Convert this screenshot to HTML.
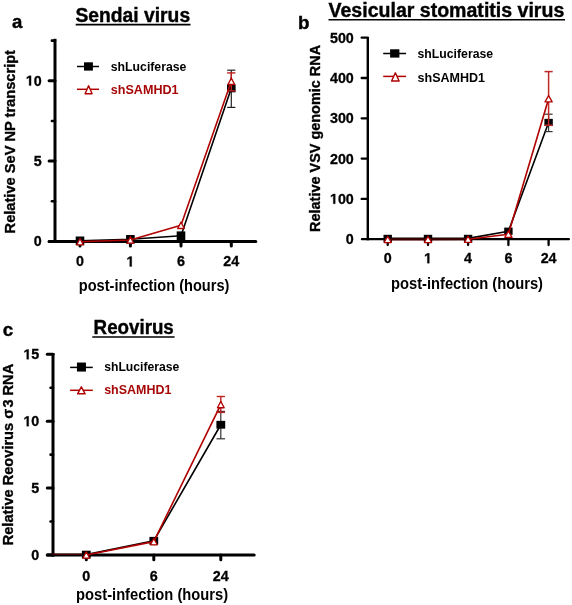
<!DOCTYPE html><html><head><meta charset="utf-8"><style>html,body{margin:0;padding:0;background:#fff;width:572px;height:605px;overflow:hidden}svg{display:block;will-change:transform}text{font-family:"Liberation Sans",sans-serif;font-weight:bold}</style></head><body>
<svg width="572" height="605" viewBox="0 0 572 605">
<text x="11.9" y="28.1" font-size="18.6" text-anchor="start" fill="#000" stroke="#000" stroke-width="0.4">a</text>
<text x="75.5" y="21.6" font-size="19.5" text-anchor="start" fill="#000" textLength="114.6" lengthAdjust="spacingAndGlyphs" stroke="#000" stroke-width="0.4">Sendai virus</text>
<line x1="75.70" y1="24.60" x2="190.50" y2="24.60" stroke="#000" stroke-width="1.8" stroke-linecap="butt"/>
<line x1="55.00" y1="38.80" x2="55.00" y2="242.90" stroke="#000" stroke-width="3" stroke-linecap="butt"/>
<line x1="49.10" y1="241.40" x2="55.00" y2="241.40" stroke="#000" stroke-width="3" stroke-linecap="round"/>
<line x1="51.90" y1="201.25" x2="55.00" y2="201.25" stroke="#000" stroke-width="2.6" stroke-linecap="round"/>
<line x1="49.10" y1="161.10" x2="55.00" y2="161.10" stroke="#000" stroke-width="3" stroke-linecap="round"/>
<line x1="51.90" y1="120.95" x2="55.00" y2="120.95" stroke="#000" stroke-width="2.6" stroke-linecap="round"/>
<line x1="49.10" y1="80.80" x2="55.00" y2="80.80" stroke="#000" stroke-width="3" stroke-linecap="round"/>
<line x1="51.90" y1="40.65" x2="55.00" y2="40.65" stroke="#000" stroke-width="2.6" stroke-linecap="round"/>
<line x1="49.30" y1="241.40" x2="255.80" y2="241.40" stroke="#000" stroke-width="3" stroke-linecap="round"/>
<line x1="80.00" y1="241.40" x2="80.00" y2="246.10" stroke="#000" stroke-width="3" stroke-linecap="round"/>
<line x1="130.40" y1="241.40" x2="130.40" y2="246.10" stroke="#000" stroke-width="3" stroke-linecap="round"/>
<line x1="181.00" y1="241.40" x2="181.00" y2="246.10" stroke="#000" stroke-width="3" stroke-linecap="round"/>
<line x1="231.30" y1="241.40" x2="231.30" y2="246.10" stroke="#000" stroke-width="3" stroke-linecap="round"/>
<text x="33.75" y="246.20000000000002" font-size="14.3" fill="#000" stroke="#000" stroke-width="0.3">0</text>
<text x="33.75" y="165.90000000000003" font-size="14.3" fill="#000" stroke="#000" stroke-width="0.3">5</text>
<path transform="translate(25.79,85.60000000000001) scale(0.006982,-0.006982)" d="M478,0 L478,1170 L140,959 L140,1180 L493,1409 L759,1409 L759,0 Z" fill="#000" stroke="#000" stroke-width="43.0" stroke-linejoin="round"/>
<text x="33.75" y="85.60000000000001" font-size="14.3" fill="#000" stroke="#000" stroke-width="0.3">0</text>
<text x="76.02" y="266.4" font-size="14.3" fill="#000" stroke="#000" stroke-width="0.3">0</text>
<path transform="translate(126.42,266.4) scale(0.006982,-0.006982)" d="M478,0 L478,1170 L140,959 L140,1180 L493,1409 L759,1409 L759,0 Z" fill="#000" stroke="#000" stroke-width="43.0" stroke-linejoin="round"/>
<text x="177.02" y="266.4" font-size="14.3" fill="#000" stroke="#000" stroke-width="0.3">6</text>
<text x="223.35" y="266.4" font-size="14.3" fill="#000" stroke="#000" stroke-width="0.3">2</text>
<text x="231.30" y="266.4" font-size="14.3" fill="#000" stroke="#000" stroke-width="0.3">4</text>
<text x="78.8" y="291.3" font-size="16" text-anchor="start" fill="#000" textLength="150.6" lengthAdjust="spacingAndGlyphs" >post-infection (hours)</text>
<text transform="translate(15.4,233.4) rotate(-90)" font-size="15.4" fill="#000" stroke="#000" stroke-width="0.35" textLength="183.4" lengthAdjust="spacingAndGlyphs">Relative SeV NP transcript</text>
<line x1="77.00" y1="66.50" x2="99.00" y2="66.50" stroke="#000" stroke-width="1.5" stroke-linecap="butt"/>
<rect x="84.00" y="62.30" width="8.9" height="8.3" fill="#000"/>
<text x="110.8" y="70.5" font-size="13" text-anchor="start" fill="#000" textLength="75.6" lengthAdjust="spacingAndGlyphs" >shLuciferase</text>
<line x1="77.00" y1="89.30" x2="99.00" y2="89.30" stroke="#b00000" stroke-width="1.5" stroke-linecap="butt"/>
<path d="M88.60,85.70 L92.10,93.70 L85.10,93.70 Z" fill="#fff" stroke="#b00000" stroke-width="1.4" stroke-linejoin="round"/>
<text x="110.8" y="94.3" font-size="13" text-anchor="start" fill="#a60606" textLength="67.8" lengthAdjust="spacingAndGlyphs" >shSAMHD1</text>
<polyline points="80.00,240.80 130.40,239.30 181.00,235.70 231.30,88.30" fill="none" stroke="#000" stroke-width="1.6" stroke-linejoin="round"/>
<line x1="231.30" y1="70.20" x2="231.30" y2="107.40" stroke="#222" stroke-width="1.2" stroke-linecap="butt"/>
<line x1="227.20" y1="70.20" x2="235.40" y2="70.20" stroke="#222" stroke-width="1.2" stroke-linecap="butt"/>
<line x1="227.20" y1="107.40" x2="235.40" y2="107.40" stroke="#222" stroke-width="1.2" stroke-linecap="butt"/>
<rect x="75.70" y="236.50" width="8.6" height="8.6" fill="#000"/>
<rect x="126.10" y="235.00" width="8.6" height="8.6" fill="#000"/>
<rect x="176.70" y="231.40" width="8.6" height="8.6" fill="#000"/>
<rect x="227.00" y="84.30" width="8.6" height="8.0" fill="#000"/>
<polyline points="80.00,241.75 130.40,240.00 181.00,225.30 231.30,81.30" fill="none" stroke="#b00000" stroke-width="1.6" stroke-linejoin="round"/>
<line x1="231.30" y1="72.90" x2="231.30" y2="90.80" stroke="#c02020" stroke-width="1.4" stroke-linecap="butt"/>
<line x1="227.20" y1="72.90" x2="235.40" y2="72.90" stroke="#c02020" stroke-width="1.4" stroke-linecap="butt"/>
<line x1="227.20" y1="90.80" x2="235.40" y2="90.80" stroke="#c02020" stroke-width="1.4" stroke-linecap="butt"/>
<path d="M80.00,238.55 L83.35,244.95 L76.65,244.95 Z" fill="#fff" stroke="#b00000" stroke-width="1.3" stroke-linejoin="round"/>
<path d="M130.40,236.80 L133.75,243.20 L127.05,243.20 Z" fill="#fff" stroke="#b00000" stroke-width="1.3" stroke-linejoin="round"/>
<path d="M181.00,222.10 L184.35,228.50 L177.65,228.50 Z" fill="#fff" stroke="#b00000" stroke-width="1.3" stroke-linejoin="round"/>
<path d="M231.30,78.10 L234.65,84.50 L227.95,84.50 Z" fill="#fff" stroke="#b00000" stroke-width="1.3" stroke-linejoin="round"/>
<text x="297.9" y="28.8" font-size="18.8" text-anchor="start" fill="#000" stroke="#000" stroke-width="0.4">b</text>
<text x="328.5" y="16.7" font-size="19.5" text-anchor="start" fill="#000" textLength="235.8" lengthAdjust="spacingAndGlyphs" stroke="#000" stroke-width="0.4">Vesicular stomatitis virus</text>
<line x1="328.50" y1="19.80" x2="565.00" y2="19.80" stroke="#000" stroke-width="1.6" stroke-linecap="butt"/>
<line x1="367.80" y1="37.00" x2="367.80" y2="240.30" stroke="#000" stroke-width="2.4" stroke-linecap="butt"/>
<line x1="361.65" y1="198.90" x2="367.80" y2="198.90" stroke="#000" stroke-width="2.3" stroke-linecap="round"/>
<line x1="361.65" y1="158.60" x2="367.80" y2="158.60" stroke="#000" stroke-width="2.3" stroke-linecap="round"/>
<line x1="361.65" y1="118.30" x2="367.80" y2="118.30" stroke="#000" stroke-width="2.3" stroke-linecap="round"/>
<line x1="361.65" y1="78.00" x2="367.80" y2="78.00" stroke="#000" stroke-width="2.3" stroke-linecap="round"/>
<line x1="361.65" y1="37.70" x2="367.80" y2="37.70" stroke="#000" stroke-width="2.3" stroke-linecap="round"/>
<line x1="361.90" y1="239.20" x2="568.90" y2="239.20" stroke="#000" stroke-width="2.2" stroke-linecap="round"/>
<line x1="387.70" y1="239.20" x2="387.70" y2="245.10" stroke="#000" stroke-width="2.3" stroke-linecap="round"/>
<line x1="428.00" y1="239.20" x2="428.00" y2="245.10" stroke="#000" stroke-width="2.3" stroke-linecap="round"/>
<line x1="468.10" y1="239.20" x2="468.10" y2="245.10" stroke="#000" stroke-width="2.3" stroke-linecap="round"/>
<line x1="508.40" y1="239.20" x2="508.40" y2="245.10" stroke="#000" stroke-width="2.3" stroke-linecap="round"/>
<line x1="548.60" y1="239.20" x2="548.60" y2="245.10" stroke="#000" stroke-width="2.3" stroke-linecap="round"/>
<text x="345.85" y="244.1" font-size="14.3" fill="#000" stroke="#000" stroke-width="0.3">0</text>
<path transform="translate(329.94,203.79999999999998) scale(0.006982,-0.006982)" d="M478,0 L478,1170 L140,959 L140,1180 L493,1409 L759,1409 L759,0 Z" fill="#000" stroke="#000" stroke-width="43.0" stroke-linejoin="round"/>
<text x="337.89" y="203.79999999999998" font-size="14.3" fill="#000" stroke="#000" stroke-width="0.3">0</text>
<text x="345.85" y="203.79999999999998" font-size="14.3" fill="#000" stroke="#000" stroke-width="0.3">0</text>
<text x="329.94" y="163.49999999999997" font-size="14.3" fill="#000" stroke="#000" stroke-width="0.3">2</text>
<text x="337.89" y="163.49999999999997" font-size="14.3" fill="#000" stroke="#000" stroke-width="0.3">0</text>
<text x="345.85" y="163.49999999999997" font-size="14.3" fill="#000" stroke="#000" stroke-width="0.3">0</text>
<text x="329.94" y="123.19999999999999" font-size="14.3" fill="#000" stroke="#000" stroke-width="0.3">3</text>
<text x="337.89" y="123.19999999999999" font-size="14.3" fill="#000" stroke="#000" stroke-width="0.3">0</text>
<text x="345.85" y="123.19999999999999" font-size="14.3" fill="#000" stroke="#000" stroke-width="0.3">0</text>
<text x="329.94" y="82.89999999999998" font-size="14.3" fill="#000" stroke="#000" stroke-width="0.3">4</text>
<text x="337.89" y="82.89999999999998" font-size="14.3" fill="#000" stroke="#000" stroke-width="0.3">0</text>
<text x="345.85" y="82.89999999999998" font-size="14.3" fill="#000" stroke="#000" stroke-width="0.3">0</text>
<text x="329.94" y="42.59999999999999" font-size="14.3" fill="#000" stroke="#000" stroke-width="0.3">5</text>
<text x="337.89" y="42.59999999999999" font-size="14.3" fill="#000" stroke="#000" stroke-width="0.3">0</text>
<text x="345.85" y="42.59999999999999" font-size="14.3" fill="#000" stroke="#000" stroke-width="0.3">0</text>
<text x="383.72" y="263.2" font-size="14.3" fill="#000" stroke="#000" stroke-width="0.3">0</text>
<path transform="translate(424.02,263.2) scale(0.006982,-0.006982)" d="M478,0 L478,1170 L140,959 L140,1180 L493,1409 L759,1409 L759,0 Z" fill="#000" stroke="#000" stroke-width="43.0" stroke-linejoin="round"/>
<text x="464.12" y="263.2" font-size="14.3" fill="#000" stroke="#000" stroke-width="0.3">4</text>
<text x="504.42" y="263.2" font-size="14.3" fill="#000" stroke="#000" stroke-width="0.3">6</text>
<text x="540.65" y="263.2" font-size="14.3" fill="#000" stroke="#000" stroke-width="0.3">2</text>
<text x="548.60" y="263.2" font-size="14.3" fill="#000" stroke="#000" stroke-width="0.3">4</text>
<text x="391.0" y="289.2" font-size="16" text-anchor="start" fill="#000" textLength="152.0" lengthAdjust="spacingAndGlyphs" >post-infection (hours)</text>
<text transform="translate(320.3,231.9) rotate(-90)" font-size="15.4" fill="#000" stroke="#000" stroke-width="0.35" textLength="187" lengthAdjust="spacingAndGlyphs">Relative VSV genomic RNA</text>
<line x1="383.20" y1="53.50" x2="406.10" y2="53.50" stroke="#000" stroke-width="1.5" stroke-linecap="butt"/>
<rect x="390.10" y="49.30" width="9.3" height="8.3" fill="#000"/>
<text x="417.5" y="58.2" font-size="13" text-anchor="start" fill="#000" textLength="75.6" lengthAdjust="spacingAndGlyphs" >shLuciferase</text>
<line x1="383.20" y1="76.40" x2="406.10" y2="76.40" stroke="#b00000" stroke-width="1.5" stroke-linecap="butt"/>
<path d="M395.35,72.80 L399.10,81.00 L391.60,81.00 Z" fill="#fff" stroke="#b00000" stroke-width="1.4" stroke-linejoin="round"/>
<text x="417.5" y="81.6" font-size="13" text-anchor="start" fill="#000" textLength="67.6" lengthAdjust="spacingAndGlyphs" >shSAMHD1</text>
<polyline points="387.70,238.40 428.00,238.40 468.10,238.40 508.40,231.20 548.60,122.45" fill="none" stroke="#000" stroke-width="1.6" stroke-linejoin="round"/>
<line x1="548.60" y1="114.20" x2="548.60" y2="131.60" stroke="#333" stroke-width="1.2" stroke-linecap="butt"/>
<line x1="544.60" y1="114.20" x2="552.60" y2="114.20" stroke="#333" stroke-width="1.2" stroke-linecap="butt"/>
<line x1="544.60" y1="131.60" x2="552.60" y2="131.60" stroke="#333" stroke-width="1.2" stroke-linecap="butt"/>
<rect x="383.50" y="234.80" width="8.4" height="7.2" fill="#000"/>
<rect x="423.80" y="234.80" width="8.4" height="7.2" fill="#000"/>
<rect x="463.90" y="234.80" width="8.4" height="7.2" fill="#000"/>
<rect x="504.20" y="227.60" width="8.4" height="7.2" fill="#000"/>
<rect x="544.40" y="118.85" width="8.4" height="7.2" fill="#000"/>
<polyline points="387.70,239.40 428.00,239.40 468.10,239.20 508.40,234.20 548.60,98.75" fill="none" stroke="#b00000" stroke-width="1.6" stroke-linejoin="round"/>
<line x1="387.70" y1="239.10" x2="468.10" y2="239.10" stroke="#3a0000" stroke-width="2.4" stroke-linecap="butt"/>
<line x1="548.60" y1="71.60" x2="548.60" y2="125.20" stroke="#c02828" stroke-width="1.5" stroke-linecap="butt"/>
<line x1="544.50" y1="71.60" x2="552.70" y2="71.60" stroke="#c02828" stroke-width="1.5" stroke-linecap="butt"/>
<line x1="544.50" y1="125.20" x2="552.70" y2="125.20" stroke="#c02828" stroke-width="1.5" stroke-linecap="butt"/>
<path d="M387.70,236.25 L391.30,242.55 L384.10,242.55 Z" fill="#fff" stroke="#b00000" stroke-width="1.3" stroke-linejoin="round"/>
<path d="M428.00,236.25 L431.60,242.55 L424.40,242.55 Z" fill="#fff" stroke="#b00000" stroke-width="1.3" stroke-linejoin="round"/>
<path d="M468.10,236.05 L471.70,242.35 L464.50,242.35 Z" fill="#fff" stroke="#b00000" stroke-width="1.3" stroke-linejoin="round"/>
<path d="M508.40,231.05 L512.00,237.35 L504.80,237.35 Z" fill="#fff" stroke="#b00000" stroke-width="1.3" stroke-linejoin="round"/>
<path d="M548.60,95.60 L552.20,101.90 L545.00,101.90 Z" fill="#fff" stroke="#b00000" stroke-width="1.3" stroke-linejoin="round"/>
<text x="2.8" y="336.4" font-size="18.8" text-anchor="start" fill="#000" stroke="#000" stroke-width="0.4">c</text>
<text x="93.6" y="333.5" font-size="19.5" text-anchor="start" fill="#000" textLength="80.2" lengthAdjust="spacingAndGlyphs" stroke="#000" stroke-width="0.4">Reovirus</text>
<line x1="92.30" y1="337.00" x2="174.60" y2="337.00" stroke="#000" stroke-width="1.7" stroke-linecap="butt"/>
<line x1="53.00" y1="353.00" x2="53.00" y2="556.50" stroke="#000" stroke-width="3" stroke-linecap="butt"/>
<line x1="47.30" y1="555.00" x2="53.00" y2="555.00" stroke="#000" stroke-width="3" stroke-linecap="round"/>
<line x1="50.60" y1="521.55" x2="53.00" y2="521.55" stroke="#000" stroke-width="2.6" stroke-linecap="round"/>
<line x1="47.30" y1="488.10" x2="53.00" y2="488.10" stroke="#000" stroke-width="3" stroke-linecap="round"/>
<line x1="50.60" y1="454.65" x2="53.00" y2="454.65" stroke="#000" stroke-width="2.6" stroke-linecap="round"/>
<line x1="47.30" y1="421.20" x2="53.00" y2="421.20" stroke="#000" stroke-width="3" stroke-linecap="round"/>
<line x1="50.60" y1="387.75" x2="53.00" y2="387.75" stroke="#000" stroke-width="2.6" stroke-linecap="round"/>
<line x1="47.30" y1="354.30" x2="53.00" y2="354.30" stroke="#000" stroke-width="3" stroke-linecap="round"/>
<line x1="47.30" y1="555.00" x2="254.20" y2="555.00" stroke="#000" stroke-width="3" stroke-linecap="round"/>
<line x1="86.30" y1="555.00" x2="86.30" y2="559.80" stroke="#000" stroke-width="3" stroke-linecap="round"/>
<line x1="153.80" y1="555.00" x2="153.80" y2="559.80" stroke="#000" stroke-width="3" stroke-linecap="round"/>
<line x1="220.80" y1="555.00" x2="220.80" y2="559.80" stroke="#000" stroke-width="3" stroke-linecap="round"/>
<text x="31.35" y="560.0" font-size="14.3" fill="#000" stroke="#000" stroke-width="0.3">0</text>
<text x="31.35" y="493.1" font-size="14.3" fill="#000" stroke="#000" stroke-width="0.3">5</text>
<path transform="translate(23.39,426.2) scale(0.006982,-0.006982)" d="M478,0 L478,1170 L140,959 L140,1180 L493,1409 L759,1409 L759,0 Z" fill="#000" stroke="#000" stroke-width="43.0" stroke-linejoin="round"/>
<text x="31.35" y="426.2" font-size="14.3" fill="#000" stroke="#000" stroke-width="0.3">0</text>
<path transform="translate(23.39,359.29999999999995) scale(0.006982,-0.006982)" d="M478,0 L478,1170 L140,959 L140,1180 L493,1409 L759,1409 L759,0 Z" fill="#000" stroke="#000" stroke-width="43.0" stroke-linejoin="round"/>
<text x="31.35" y="359.29999999999995" font-size="14.3" fill="#000" stroke="#000" stroke-width="0.3">5</text>
<text x="82.32" y="580.5" font-size="14.3" fill="#000" stroke="#000" stroke-width="0.3">0</text>
<text x="149.82" y="580.5" font-size="14.3" fill="#000" stroke="#000" stroke-width="0.3">6</text>
<text x="212.85" y="580.5" font-size="14.3" fill="#000" stroke="#000" stroke-width="0.3">2</text>
<text x="220.80" y="580.5" font-size="14.3" fill="#000" stroke="#000" stroke-width="0.3">4</text>
<text x="76.1" y="599.6" font-size="16" text-anchor="start" fill="#000" textLength="152.0" lengthAdjust="spacingAndGlyphs" >post-infection (hours)</text>
<text transform="translate(13.1,545.3) rotate(-90)" font-size="15.4" fill="#000" stroke="#000" stroke-width="0.35" textLength="181.5" lengthAdjust="spacingAndGlyphs">Relative Reovirus σ<tspan dx="1.3">3</tspan> RNA</text>
<line x1="70.10" y1="367.40" x2="92.80" y2="367.40" stroke="#000" stroke-width="1.5" stroke-linecap="butt"/>
<rect x="76.95" y="362.55" width="9.0" height="9.0" fill="#000"/>
<text x="104.2" y="370.9" font-size="13" text-anchor="start" fill="#000" textLength="75.2" lengthAdjust="spacingAndGlyphs" >shLuciferase</text>
<line x1="70.10" y1="390.30" x2="92.80" y2="390.30" stroke="#b00000" stroke-width="1.5" stroke-linecap="butt"/>
<path d="M81.35,386.80 L85.10,393.80 L77.60,393.80 Z" fill="#fff" stroke="#b00000" stroke-width="1.4" stroke-linejoin="round"/>
<text x="104.2" y="394.3" font-size="13" text-anchor="start" fill="#a60606" textLength="67.2" lengthAdjust="spacingAndGlyphs" >shSAMHD1</text>
<line x1="52.00" y1="554.20" x2="84.00" y2="554.20" stroke="#5a0000" stroke-width="1.2" stroke-linecap="butt"/>
<polyline points="86.30,554.60 153.80,540.80 220.80,424.75" fill="none" stroke="#000" stroke-width="1.6" stroke-linejoin="round"/>
<line x1="220.80" y1="411.40" x2="220.80" y2="438.80" stroke="#333" stroke-width="1.2" stroke-linecap="butt"/>
<line x1="216.50" y1="411.40" x2="225.10" y2="411.40" stroke="#333" stroke-width="1.2" stroke-linecap="butt"/>
<line x1="216.50" y1="438.80" x2="225.10" y2="438.80" stroke="#333" stroke-width="1.2" stroke-linecap="butt"/>
<rect x="81.90" y="550.70" width="8.8" height="7.8" fill="#000"/>
<rect x="149.40" y="536.90" width="8.8" height="7.8" fill="#000"/>
<rect x="216.40" y="420.85" width="8.8" height="7.8" fill="#000"/>
<polyline points="86.30,555.00 153.80,541.60 220.80,404.55" fill="none" stroke="#b00000" stroke-width="1.6" stroke-linejoin="round"/>
<line x1="220.80" y1="396.50" x2="220.80" y2="412.40" stroke="#c02020" stroke-width="1.4" stroke-linecap="butt"/>
<line x1="216.70" y1="396.50" x2="224.90" y2="396.50" stroke="#c02020" stroke-width="1.4" stroke-linecap="butt"/>
<line x1="216.70" y1="412.40" x2="224.90" y2="412.40" stroke="#c02020" stroke-width="1.4" stroke-linecap="butt"/>
<path d="M86.30,551.80 L89.70,558.20 L82.90,558.20 Z" fill="#fff" stroke="#b00000" stroke-width="1.3" stroke-linejoin="round"/>
<path d="M153.80,538.40 L157.20,544.80 L150.40,544.80 Z" fill="#fff" stroke="#b00000" stroke-width="1.3" stroke-linejoin="round"/>
<path d="M220.80,401.35 L224.20,407.75 L217.40,407.75 Z" fill="#fff" stroke="#b00000" stroke-width="1.3" stroke-linejoin="round"/>
</svg></body></html>
